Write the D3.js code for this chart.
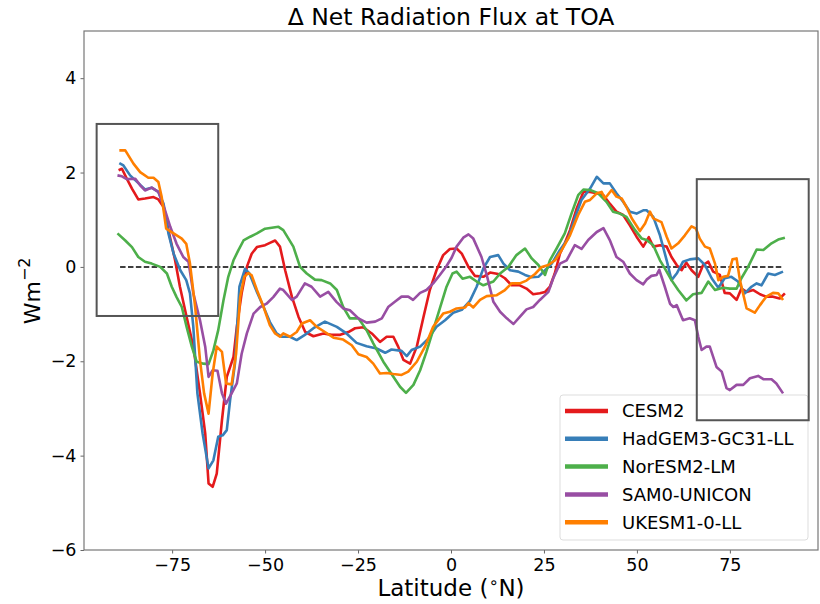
<!DOCTYPE html>
<html>
<head>
<meta charset="utf-8">
<script src="https://cdn.jsdelivr.net/npm/d3@7"></script>
<style>
  body { margin: 0; background: #fff; }
  svg { font-family: "DejaVu Sans", sans-serif; }
</style>
</head>
<body>
<div id="chart"></div>
<script>
// series names and colours
const models = ["CESM2", "HadGEM3-GC31-LL", "NorESM2-LM", "SAM0-UNICON", "UKESM1-0-LL"];
const colors = ["#e41a1c", "#377eb8", "#4daf4a", "#984ea3", "#ff7f00"];

// [latitude, delta net flux]
const cesm2 = [
  [-89.4, 2.05], [-88.5, 2.08], [-87.2, 1.87], [-85.8, 1.66], [-84.1, 1.43], [-82.3, 1.45],
  [-80.0, 1.48], [-78.7, 1.43], [-77.3, 1.27], [-76.0, 0.78], [-74.2, 0.14], [-72.9, -0.42],
  [-71.1, -1.06], [-69.3, -1.69], [-67.5, -2.68], [-66.1, -3.53], [-65.2, -4.59], [-64.1, -4.66],
  [-63.0, -4.38], [-61.6, -3.25], [-60.3, -2.33], [-58.5, -1.91], [-57.6, -1.27], [-56.3, -0.56],
  [-54.9, 0.0], [-53.6, 0.28], [-52.2, 0.42], [-50.0, 0.46], [-48.7, 0.51], [-47.3, 0.56],
  [-46.0, 0.43], [-44.6, -0.07], [-42.8, -0.63], [-41.0, -1.06], [-39.2, -1.38], [-37.0, -1.47],
  [-34.3, -1.41], [-32.1, -1.44], [-29.8, -1.44], [-27.6, -1.38], [-25.8, -1.3], [-23.6, -1.28],
  [-21.3, -1.41], [-19.1, -1.59], [-17.3, -1.48], [-15.5, -1.48], [-14.2, -1.69], [-12.8, -1.97],
  [-11.0, -2.05], [-9.2, -1.69], [-7.4, -1.06], [-5.7, -0.49], [-3.9, -0.07], [-2.1, 0.25],
  [-0.3, 0.38], [1.5, 0.39], [2.9, 0.28], [4.7, 0.0], [6.4, -0.19], [8.7, -0.21], [10.5, -0.12],
  [12.7, -0.15], [14.5, -0.24], [16.3, -0.39], [18.5, -0.39], [20.3, -0.46], [22.1, -0.58],
  [23.9, -0.56], [25.3, -0.53], [26.6, -0.42], [27.9, -0.14], [29.3, 0.28], [30.6, 0.5],
  [32.0, 0.78], [33.8, 1.24], [35.6, 1.59], [37.4, 1.59], [39.2, 1.56], [41.0, 1.52], [42.7, 1.34],
  [44.5, 1.17], [46.3, 1.1], [48.1, 0.88], [49.9, 0.64], [51.7, 0.43], [53.2, 0.63], [54.4, 0.43],
  [56.2, 0.46], [58.0, 0.43], [59.3, 0.21], [60.7, 0.04], [62.0, -0.07], [63.3, 0.09], [64.7, -0.07],
  [66.5, -0.21], [67.8, 0.04], [69.2, 0.11], [70.5, -0.1], [72.3, -0.17], [73.6, -0.55], [75.0, -0.56],
  [76.8, -0.7], [78.1, -0.46], [79.5, -0.53], [81.3, -0.49], [83.1, -0.58], [84.8, -0.63],
  [86.6, -0.63], [88.4, -0.67], [89.8, -0.56]
];

const hadgem3 = [
  [-89.2, 2.2], [-88.1, 2.15], [-86.3, 1.94], [-84.0, 1.77], [-82.3, 1.64], [-80.5, 1.68],
  [-78.7, 1.59], [-77.3, 1.34], [-76.0, 0.71], [-74.6, 0.28], [-72.8, -0.07], [-71.2, -0.28],
  [-70.2, -0.56], [-69.3, -1.27], [-68.2, -2.68], [-66.8, -3.53], [-65.2, -4.27], [-63.9, -4.1],
  [-62.6, -3.6], [-61.4, -3.57], [-60.3, -3.46], [-59.4, -2.82], [-58.1, -2.05], [-56.9, -0.42],
  [-55.4, -0.04], [-54.2, -0.14], [-52.2, -0.53], [-50.4, -0.85], [-48.7, -1.17], [-46.9, -1.41],
  [-45.5, -1.48], [-43.3, -1.48], [-41.5, -1.55], [-39.3, -1.44], [-37.0, -1.3], [-33.9, -1.16],
  [-30.7, -1.27], [-28.1, -1.41], [-25.4, -1.61], [-22.7, -1.68], [-20.0, -1.73], [-17.7, -1.82],
  [-16.0, -1.75], [-13.3, -1.78], [-11.9, -1.89], [-10.6, -1.76], [-8.3, -1.69], [-6.1, -1.52],
  [-3.9, -1.27], [-1.6, -1.13], [0.6, -0.97], [2.9, -0.91], [5.1, -0.72], [6.9, -0.42],
  [8.7, -0.03], [10.5, 0.21], [12.7, 0.25], [14.1, 0.07], [15.9, -0.07], [18.1, -0.1], [19.9, -0.17],
  [21.7, -0.22], [23.5, -0.21], [25.3, -0.07], [27.1, 0.07], [29.3, 0.36], [31.5, 0.6], [33.3, 1.03],
  [35.1, 1.42], [37.4, 1.66], [39.2, 1.91], [41.0, 1.77], [42.7, 1.77], [44.5, 1.56], [46.3, 1.38],
  [48.1, 1.17], [49.9, 1.13], [51.7, 1.2], [52.6, 1.2], [54.4, 1.06], [56.2, 0.67], [58.0, 0.14],
  [59.3, -0.28], [60.7, -0.14], [62.4, 0.11], [64.2, 0.16], [66.5, 0.18], [68.3, 0.04], [70.1, -0.24],
  [71.9, -0.44], [73.6, -0.24], [75.4, -0.21], [77.2, -0.31], [79.0, -0.56], [80.8, -0.42],
  [82.2, -0.35], [83.5, -0.39], [85.3, -0.14], [87.1, -0.17], [89.3, -0.1]
];

const noresm2 = [
  [-89.7, 0.71], [-87.6, 0.56], [-85.8, 0.42], [-84.1, 0.21], [-82.3, 0.11], [-80.5, 0.07],
  [-78.2, 0.0], [-76.4, -0.14], [-75.1, -0.42], [-73.8, -0.64], [-72.4, -0.85], [-71.1, -1.27],
  [-69.7, -1.69], [-68.4, -2.01], [-66.6, -2.05], [-65.2, -2.06], [-63.9, -1.77], [-62.6, -1.34],
  [-61.2, -0.71], [-59.9, -0.21], [-58.5, 0.14], [-57.2, 0.35], [-55.8, 0.56], [-54.0, 0.64],
  [-52.2, 0.71], [-50.0, 0.81], [-48.2, 0.83], [-46.4, 0.85], [-45.1, 0.78], [-42.4, 0.43],
  [-40.6, 0.0], [-38.8, -0.14], [-36.6, -0.27], [-34.8, -0.28], [-32.5, -0.35], [-30.7, -0.49],
  [-29.0, -0.85], [-27.2, -1.09], [-24.9, -1.09], [-22.7, -1.34], [-20.9, -1.62], [-18.2, -2.01],
  [-15.5, -2.33], [-13.7, -2.54], [-12.1, -2.67], [-10.1, -2.5], [-8.3, -2.19], [-6.6, -1.8],
  [-4.8, -1.34], [-3.0, -0.88], [-1.2, -0.42], [0.4, -0.14], [1.5, -0.1], [3.1, -0.25],
  [5.1, -0.21], [6.9, -0.31], [8.7, -0.39], [11.4, -0.31], [13.2, -0.14], [15.4, 0.0], [17.6, 0.25],
  [19.9, 0.39], [21.7, 0.18], [23.5, 0.04], [25.3, -0.17], [26.6, 0.14], [28.4, 0.39], [30.6, 0.71],
  [32.4, 1.13], [34.2, 1.52], [35.6, 1.64], [37.4, 1.63], [39.6, 1.56], [41.8, 1.38], [43.6, 1.17],
  [45.4, 1.13], [47.2, 1.06], [49.5, 0.78], [51.3, 0.6], [52.6, 0.57], [54.4, 0.46], [56.2, 0.14],
  [57.5, -0.03], [59.3, -0.28], [61.1, -0.49], [63.3, -0.71], [65.1, -0.58], [67.4, -0.55],
  [69.2, -0.31], [71.0, -0.49], [73.2, -0.44], [75.0, -0.46], [76.8, -0.46], [78.1, -0.24],
  [79.9, 0.0], [82.2, 0.37], [84.0, 0.36], [86.2, 0.5], [88.0, 0.58], [89.8, 0.62]
];

const sam0 = [
  [-89.7, 1.94], [-88.5, 1.92], [-87.2, 1.86], [-84.9, 1.87], [-83.6, 1.73], [-82.3, 1.62],
  [-80.5, 1.68], [-78.7, 1.59], [-76.9, 1.2], [-75.5, 0.85], [-73.8, 0.49], [-72.0, 0.21],
  [-70.6, 0.11], [-69.3, -0.56], [-67.5, -1.13], [-66.1, -1.69], [-65.2, -2.33], [-64.1, -2.19],
  [-62.8, -2.2], [-61.6, -2.68], [-60.5, -2.9], [-59.0, -2.68], [-57.6, -2.47], [-56.3, -1.84],
  [-54.9, -1.41], [-53.1, -0.99], [-51.3, -0.85], [-49.6, -0.78], [-47.8, -0.64], [-46.0, -0.46],
  [-45.1, -0.49], [-42.8, -0.7], [-41.5, -0.63], [-39.3, -0.35], [-37.5, -0.42], [-35.2, -0.63],
  [-33.0, -0.53], [-30.8, -0.74], [-29.0, -0.88], [-27.2, -0.92], [-24.9, -1.09], [-22.7, -1.18],
  [-20.4, -1.16], [-18.6, -1.09], [-16.9, -0.85], [-15.1, -0.74], [-13.3, -0.63], [-11.5, -0.63],
  [-10.2, -0.7], [-8.3, -0.55], [-6.6, -0.49], [-4.8, -0.35], [-3.0, -0.17], [-1.2, 0.02],
  [0.2, 0.2], [1.5, 0.43], [3.3, 0.62], [4.7, 0.69], [6.0, 0.6], [8.2, 0.21], [9.6, -0.17],
  [11.4, -0.74], [13.2, -0.95], [15.0, -1.09], [16.8, -1.21], [18.5, -1.06], [20.3, -0.9],
  [22.1, -0.85], [23.9, -0.7], [26.2, -0.53], [27.5, -0.24], [29.3, 0.07], [31.1, 0.14], [33.3, 0.46],
  [35.1, 0.38], [36.9, 0.57], [39.2, 0.74], [41.0, 0.82], [42.7, 0.57], [44.5, 0.21], [46.3, 0.11],
  [48.1, -0.14], [49.9, -0.28], [51.7, -0.37], [52.6, -0.27], [53.9, -0.19], [55.3, -0.17],
  [56.0, -0.06], [57.5, -0.42], [58.9, -0.78], [59.8, -0.85], [60.7, -0.81], [62.4, -1.13],
  [64.2, -1.09], [65.6, -1.13], [66.5, -1.48], [67.4, -1.76], [68.7, -1.69], [69.6, -1.69],
  [71.4, -2.12], [72.8, -2.22], [74.1, -2.57], [75.0, -2.61], [76.8, -2.5], [78.6, -2.5],
  [80.4, -2.36], [82.6, -2.31], [84.0, -2.38], [86.2, -2.38], [87.5, -2.47], [89.3, -2.68]
];

const ukesm1 = [
  [-89.2, 2.47], [-87.6, 2.47], [-85.4, 2.19], [-83.6, 2.01], [-81.4, 1.89], [-80.0, 1.89],
  [-78.7, 1.8], [-77.8, 1.48], [-76.6, 0.81], [-74.6, 0.71], [-72.4, 0.6], [-71.2, 0.49],
  [-70.2, 0.07], [-68.8, -0.85], [-67.5, -1.98], [-66.4, -2.68], [-65.2, -3.11], [-64.1, -2.26],
  [-63.0, -1.69], [-61.6, -1.8], [-60.5, -2.47], [-59.0, -2.49], [-57.8, -1.84], [-56.7, -0.64],
  [-55.6, -0.21], [-54.5, -0.13], [-53.6, -0.18], [-52.2, -0.49], [-50.4, -0.85], [-48.7, -1.24],
  [-47.3, -1.41], [-46.0, -1.48], [-45.1, -1.41], [-43.3, -1.48], [-41.5, -1.38], [-40.1, -1.2],
  [-37.9, -1.13], [-36.1, -1.27], [-33.9, -1.38], [-31.6, -1.5], [-29.0, -1.54], [-26.7, -1.66],
  [-24.9, -1.85], [-22.7, -1.91], [-20.9, -2.05], [-19.1, -2.26], [-17.3, -2.25], [-15.5, -2.27],
  [-13.3, -2.29], [-11.5, -2.22], [-9.2, -2.01], [-7.0, -1.69], [-4.8, -1.27], [-2.1, -0.99],
  [-0.3, -0.95], [1.5, -0.88], [3.8, -0.86], [4.7, -0.77], [6.0, -0.86], [7.8, -0.7], [9.6, -0.62],
  [12.3, -0.6], [14.5, -0.49], [16.3, -0.35], [18.5, -0.35], [20.3, -0.29], [22.6, -0.15],
  [24.4, 0.0], [26.2, 0.04], [28.0, 0.14], [29.8, 0.36], [32.0, 0.67], [34.2, 1.1], [36.0, 1.38],
  [37.4, 1.42], [39.2, 1.56], [40.5, 1.59], [41.4, 1.45], [43.2, 1.63], [44.5, 1.49], [45.9, 1.45],
  [47.2, 1.27], [48.6, 1.03], [50.8, 0.76], [52.2, 0.92], [53.5, 1.17], [54.4, 1.03], [56.6, 0.95],
  [58.0, 0.64], [59.3, 0.39], [61.1, 0.5], [62.9, 0.67], [64.7, 0.86], [65.9, 0.81], [66.9, 0.6],
  [68.3, 0.43], [69.6, 0.39], [71.0, 0.07], [71.9, -0.28], [73.2, -0.21], [74.5, -0.19],
  [75.7, 0.16], [76.8, 0.18], [77.7, -0.28], [79.5, -0.88], [81.7, -0.97], [83.1, -0.81],
  [84.8, -0.63], [86.6, -0.55], [88.0, -0.56], [89.3, -0.7]
];

const seriesData = [cesm2, hadgem3, noresm2, sam0, ukesm1];

const xTicks = [-75, -50, -25, 0, 25, 50, 75];
const yTicks = [-6, -4, -2, 0, 2, 4];
const zeroLineLat = [-89, 89];
// highlight boxes: [lat0, lat1, v0, v1]
const southBox = [-95.3, -62.6, -1.04, 3.03];
const northBox = [66.1, 96.2, -3.25, 1.86];

const width = 820;
const height = 604;
const margin = { top: 31, right: 2, bottom: 54, left: 84 };

const svg = d3.select("#chart").append("svg")
  .attr("width", width)
  .attr("height", height);

const x = d3.scaleLinear().domain([-98.7, 98.7]).range([margin.left, width - margin.right]);
const y = d3.scaleLinear().domain([-6, 5]).range([height - margin.bottom, margin.top]);

// zero reference
svg.append("line")
  .attr("x1", x(zeroLineLat[0])).attr("x2", x(zeroLineLat[1]))
  .attr("y1", y(0)).attr("y2", y(0))
  .attr("stroke", "#000")
  .attr("stroke-width", 1.5)
  .attr("stroke-dasharray", "5.5,2.4");

const line = d3.line().x(d => x(d[0])).y(d => y(d[1]));

svg.append("g").selectAll("path")
  .data(seriesData)
  .join("path")
  .attr("d", line)
  .attr("fill", "none")
  .attr("stroke", (d, i) => colors[i])
  .attr("stroke-width", 2.6)
  .attr("stroke-linejoin", "round");

// axes
const xAxis = svg.append("g")
  .attr("transform", `translate(0,${height - margin.bottom})`)
  .call(d3.axisBottom(x).tickValues(xTicks).tickSize(3.5).tickPadding(5));
const yAxis = svg.append("g")
  .attr("transform", `translate(${margin.left},0)`)
  .call(d3.axisLeft(y).tickValues(yTicks).tickSize(3.5).tickPadding(4));

[xAxis, yAxis].forEach(g => {
  g.select(".domain").remove();
  g.selectAll("line").attr("stroke", "#555").attr("stroke-width", 0.9);
  g.selectAll("text")
    .attr("fill", "#000")
    .style("font-family", "DejaVu Sans")
    .style("font-size", "17.5px");
});

// frame
svg.append("rect")
  .attr("x", margin.left).attr("y", margin.top)
  .attr("width", width - margin.left - margin.right)
  .attr("height", height - margin.top - margin.bottom)
  .attr("fill", "none")
  .attr("stroke", "#777")
  .attr("stroke-width", 1.2);

// legend
const legend = svg.append("g").attr("transform", "translate(560,395)");
legend.append("rect")
  .attr("width", 248).attr("height", 145)
  .attr("rx", 3)
  .attr("fill", "#fff")
  .attr("fill-opacity", 0.85)
  .attr("stroke", "#ddd")
  .attr("stroke-width", 1);

const items = legend.selectAll("g.item")
  .data(models)
  .join("g")
  .attr("class", "item")
  .attr("transform", (d, i) => `translate(0,${16 + i * 27.8})`);
items.append("line")
  .attr("x1", 5).attr("x2", 48)
  .attr("stroke", (d, i) => colors[i])
  .attr("stroke-width", 4.5);
items.append("text")
  .attr("x", 62).attr("dy", "0.36em")
  .style("font-size", "18px")
  .text(d => d);

// highlight boxes drawn over the legend
[southBox, northBox].forEach(b => {
  svg.append("rect")
    .attr("x", x(b[0])).attr("y", y(b[3]))
    .attr("width", x(b[1]) - x(b[0]))
    .attr("height", y(b[2]) - y(b[3]))
    .attr("fill", "none")
    .attr("stroke", "#555")
    .attr("stroke-width", 2);
});

// title and axis labels
svg.append("text")
  .attr("x", (margin.left + width - margin.right) / 2)
  .attr("y", 25)
  .attr("text-anchor", "middle")
  .style("font-size", "23.5px")
  .text("Δ Net Radiation Flux at TOA");

const xl = svg.append("text")
  .attr("x", (margin.left + width - margin.right) / 2)
  .attr("y", 596)
  .attr("text-anchor", "middle")
  .style("font-size", "23px");
xl.append("tspan").text("Latitude (");
xl.append("tspan").attr("dy", -8).style("font-size", "16px").text("∘");
xl.append("tspan").attr("dy", 8).text("N)");

const yl = svg.append("text")
  .attr("transform", `translate(40,${y(0) + 24}) rotate(-90)`)
  .attr("text-anchor", "middle")
  .style("font-size", "22px");
yl.append("tspan").text("Wm");
yl.append("tspan").attr("dy", -10).style("font-size", "16px").text("−2");
</script>
</body>
</html>
